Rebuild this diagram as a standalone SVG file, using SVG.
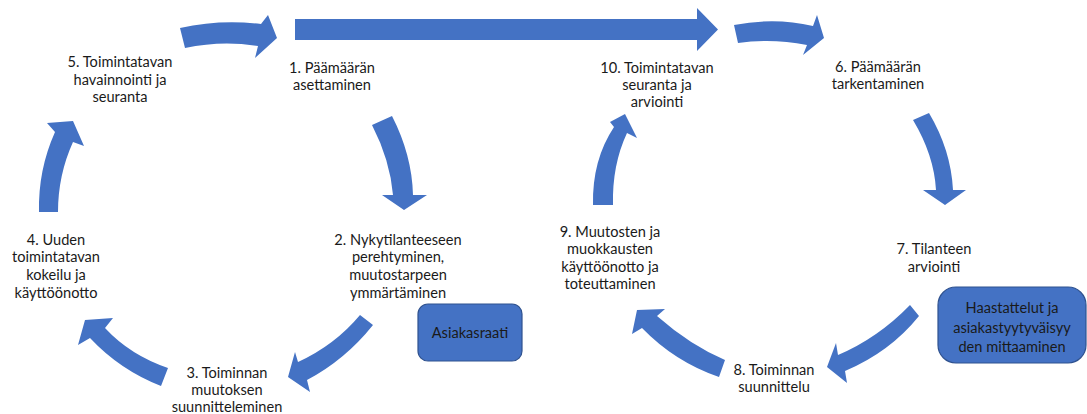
<svg xmlns="http://www.w3.org/2000/svg" width="1087" height="414" viewBox="0 0 1087 414">
<style>
.arr{fill:#4472C4;stroke:none}
.box{fill:#4472C4;stroke:#2F528F;stroke-width:1.2}
text{font-family:Lato,"Open Sans","Liberation Sans",sans-serif;font-size:14.6px;fill:#1a1a1a;text-anchor:middle}
</style>
<rect width="1087" height="414" fill="#ffffff"/>
<g id="connectors">
<path class="arr" d="M180,28 Q220,19 261,24 L268,15 L277,38 L255,58 L258,46 Q222,40 185,48 Z"/>
<path class="arr" d="M295,19 L697,19 L697,8 L718,29.5 L697,51 L697,40 L295,40 Z"/>
<path class="arr" d="M734,25 Q775,17 813,26 L817,15 L824,38 L803,55 L807,45 Q772,38 738,43 Z"/>
<path class="arr" d="M913,120 L929,113 Q951,150 953,190 L966,190 L945,205 L923,190 L936,190 Q934,155 913,120 Z"/>
<path class="arr" d="M910,305 L919,316 Q890,352 845,371 L847,383 L827,367 L836,343 L838,355 Q878,338 910,305 Z"/>
<path class="arr" d="M725,360 L719,377 Q675,362 642,328 L632,334 L637,310 L665,309 L657,316 Q690,345 725,360 Z"/>
<path class="arr" d="M593,205 Q592,160 614,127 L610,122 L625,114 L637,138 L627,133 Q612,165 613,205 Z"/>
<path class="arr" d="M372,125 L392,116 Q412,155 413,195 L427,195 L404,210 L382,195 L393,195 Q390,160 372,125 Z"/>
<path class="arr" d="M360,315 L373,325 Q345,360 307,380 L310,392 L288,377 L295,352 L298,362 Q335,345 360,315 Z"/>
<path class="arr" d="M168,368 L161,386 Q120,370 90,338 L78,345 L85,320 L113,318 L105,328 Q130,355 168,368 Z"/>
<path class="arr" d="M39,212 Q38,170 55,132 L47,123 L73,121 L84,146 L73,142 Q58,175 58,212 Z"/>
</g>
<g id="n5"><text x="120" y="67">5. Toimintatavan</text><text x="120" y="84.5">havainnointi ja</text><text x="120" y="102">seuranta</text></g>
<g id="n1"><text x="332" y="73">1. Päämäärän</text><text x="332" y="90">asettaminen</text></g>
<g id="n10"><text x="657" y="73">10. Toimintatavan</text><text x="657" y="90">seuranta ja</text><text x="657" y="107">arviointi</text></g>
<g id="n6"><text x="878" y="72">6. Päämäärän</text><text x="878" y="89">tarkentaminen</text></g>
<g id="n2"><text x="398" y="245">2. Nykytilanteeseen</text><text x="398" y="262">perehtyminen,</text><text x="398" y="280">muutostarpeen</text><text x="398" y="298">ymmärtäminen</text></g>
<g id="n4"><text x="56" y="245">4. Uuden</text><text x="56" y="262">toimintatavan</text><text x="56" y="280">kokeilu ja</text><text x="56" y="298">käyttöönotto</text></g>
<g id="n3"><text x="227" y="378">3. Toiminnan</text><text x="227" y="395">muutoksen</text><text x="227" y="412">suunnitteleminen</text></g>
<g id="n9"><text x="610" y="237">9. Muutosten ja</text><text x="610" y="254">muokkausten</text><text x="610" y="272">käyttöönotto ja</text><text x="610" y="289">toteuttaminen</text></g>
<g id="n7"><text x="934" y="254">7. Tilanteen</text><text x="934" y="272">arviointi</text></g>
<g id="n8"><text x="774" y="375">8. Toiminnan</text><text x="774" y="392">suunnittelu</text></g>
<g id="asiakasraati"><rect class="box" x="418" y="304" width="104" height="57" rx="10"/><text x="470" y="338">Asiakasraati</text></g>
<g id="haastattelut"><rect class="box" x="938" y="287" width="148" height="76" rx="18"/><text x="1012" y="313">Haastattelut ja</text><text x="1012" y="333">asiakastyytyväisyy</text><text x="1012" y="352">den mittaaminen</text></g>
</svg>
